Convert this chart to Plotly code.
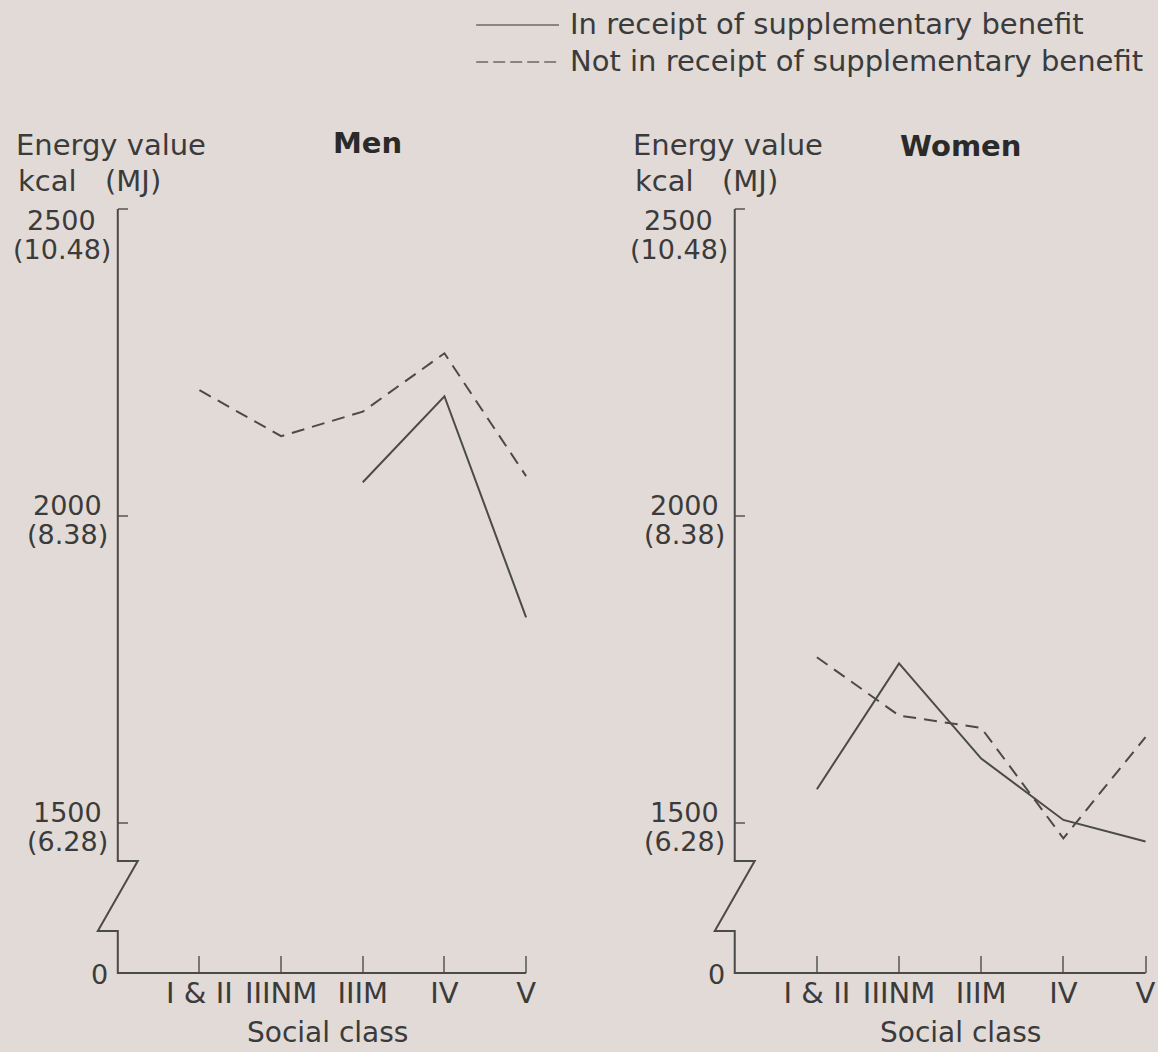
import plotly.graph_objects as go

# Social classes (Registrar General's classification)
classes = ["I & II", "IIINM", "IIIM", "IV", "V"]

# Mean daily energy intake, kcal
men_in_receipt = [None, None, 2055, 2195, 1835]
men_not_in_receipt = [2205, 2130, 2170, 2265, 2065]
women_in_receipt = [1555, 1760, 1605, 1505, 1470]
women_not_in_receipt = [1770, 1675, 1655, 1475, 1640]

# Energy axis: kcal ticks with their MJ equivalents
kcal_ticks = [1500, 2000, 2500]
mj_labels = ["(6.28)", "(8.38)", "(10.48)"]
zero_label = "0"

series_names = [
    "In receipt of supplementary benefit",
    "Not in receipt of supplementary benefit",
]
panel_titles = ["Men", "Women"]

# ---------------------------------------------------------------- layout
W, H = 1158, 1052
BG = "#e1dad6"
INK = "#3b3b3b"
LINE = "#4a4a4a"
FONT = "DejaVu Sans"

AXIS_BOTTOM_PX = 973          # x axis (broken energy scale shows 0 here)
AXIS_TOP_PX = 195
REF_KCAL, REF_PX = 1500, 823  # pixel row of the 1500 kcal tick
PX_PER_KCAL = 0.614
BREAK_TOP_PX, BREAK_BOTTOM_PX, BREAK_W = 861, 931, 20
X_MAX = 4.1                   # categorical range: -1 is the energy axis

Y_LO = REF_KCAL - (AXIS_BOTTOM_PX - REF_PX) / PX_PER_KCAL
Y_HI = REF_KCAL + (REF_PX - AXIS_TOP_PX) / PX_PER_KCAL

panels = [
    dict(axis_px=118, step_px=81.8, title_px=368, title_y=143, xtitle_px=328,
         solid=men_in_receipt, dashed=men_not_in_receipt),
    dict(axis_px=736, step_px=82.3, title_px=962, title_y=146, xtitle_px=962,
         solid=women_in_receipt, dashed=women_not_in_receipt),
]


def fx(px):
    return px / W


def fy(px):
    return 1 - px / H


def kcal_px(v):
    return REF_PX - (v - REF_KCAL) * PX_PER_KCAL


fig = go.Figure()
shapes, annotations = [], []

for i, p in enumerate(panels, start=1):
    xa = "x" if i == 1 else f"x{i}"
    ya = "y" if i == 1 else f"y{i}"
    ax, step = p["axis_px"], p["step_px"]

    fig.add_trace(go.Scatter(
        x=classes, y=p["solid"], xaxis=xa, yaxis=ya, mode="lines",
        name=series_names[0], showlegend=False, connectgaps=False,
        line=dict(color=LINE, width=2),
    ))
    fig.add_trace(go.Scatter(
        x=classes, y=p["dashed"], xaxis=xa, yaxis=ya, mode="lines",
        name=series_names[1], showlegend=False,
        line=dict(color=LINE, width=2, dash="13px,8px"),
    ))

    key = "" if i == 1 else str(i)
    fig.layout["xaxis" + key] = dict(
        domain=[fx(ax), fx(ax + (X_MAX + 1) * step)],
        range=[-1, X_MAX], type="category", anchor=ya,
        showgrid=False, zeroline=False, showline=False,
        ticks="inside", ticklen=17, tickwidth=1.5, tickcolor="#777",
        tickfont=dict(family=FONT, size=29, color=INK),
        categoryorder="array", categoryarray=classes,
    )
    fig.layout["yaxis" + key] = dict(
        domain=[fy(AXIS_BOTTOM_PX), fy(AXIS_TOP_PX)],
        range=[Y_LO, Y_HI], anchor=xa,
        showgrid=False, zeroline=False, showline=False,
        tickvals=kcal_ticks, ticks="inside", ticklen=10, tickwidth=1.5,
        tickcolor="#777", showticklabels=False,
    )

    # broken energy axis and class axis
    top = kcal_px(kcal_ticks[-1])
    right = ax + (len(classes)) * step
    pts = [(ax, top), (ax, BREAK_TOP_PX), (ax + BREAK_W, BREAK_TOP_PX),
           (ax - BREAK_W, BREAK_BOTTOM_PX), (ax, BREAK_BOTTOM_PX),
           (ax, AXIS_BOTTOM_PX), (right, AXIS_BOTTOM_PX)]
    path = "M " + " L ".join(f"{fx(a):.5f},{fy(b):.5f}" for a, b in pts)
    shapes.append(dict(type="path", xref="paper", yref="paper", path=path,
                       line=dict(color=LINE, width=2)))

    # energy tick labels: kcal over MJ, centred as a block
    for v, mj in zip(kcal_ticks, mj_labels):
        t = kcal_px(v)
        at_top = v == kcal_ticks[-1]
        cx = ax - (56 if at_top else 50)
        offs = (11, 41) if at_top else (-11, 18)
        for txt, off in zip((f"{v}", mj), offs):
            annotations.append(dict(
                xref="paper", yref="paper", x=fx(cx), y=fy(t + off),
                xanchor="center", yanchor="middle", showarrow=False,
                text=txt, font=dict(family=FONT, size=27, color=INK)))
    annotations.append(dict(
        xref="paper", yref="paper", x=fx(ax - 8), y=fy(AXIS_BOTTOM_PX + 1),
        xanchor="right", yanchor="middle", showarrow=False, text=zero_label,
        font=dict(family=FONT, size=27, color=INK)))

    # axis captions
    for txt, dx, py in (("Energy value", -104, 145), ("kcal", -102, 181),
                        ("(MJ)", -15, 181)):
        annotations.append(dict(
            xref="paper", yref="paper", x=fx(ax + dx), y=fy(py),
            xanchor="left", yanchor="middle", showarrow=False, text=txt,
            font=dict(family=FONT, size=29, color=INK)))
    annotations.append(dict(
        xref="paper", yref="paper", x=fx(p["title_px"]), y=fy(p["title_y"]),
        xanchor="center", yanchor="middle", showarrow=False,
        text=f"<b>{panel_titles[i - 1]}</b>",
        font=dict(family=FONT, size=29, color="#2a2a2a")))
    annotations.append(dict(
        xref="paper", yref="paper", x=fx(p["xtitle_px"]), y=fy(1051),
        xanchor="center", yanchor="bottom", showarrow=False,
        text="Social class", font=dict(family=FONT, size=28, color=INK)))

# key
for j, (name, dash, py) in enumerate(zip(series_names, ["solid", "12px,5px"],
                                         [25, 62])):
    shapes.append(dict(type="line", xref="paper", yref="paper",
                       x0=fx(477), x1=fx(560), y0=fy(py), y1=fy(py),
                       line=dict(color="#6a6a6a", width=1.5, dash=dash)))
    annotations.append(dict(
        xref="paper", yref="paper", x=fx(569), y=fy(py - 1),
        xanchor="left", yanchor="middle", showarrow=False, text=name,
        font=dict(family=FONT, size=29, color=INK)))

fig.update_layout(
    width=W, height=H, margin=dict(l=0, r=0, t=0, b=0),
    paper_bgcolor=BG, plot_bgcolor=BG, showlegend=False,
    shapes=shapes, annotations=annotations,
)

fig.write_html("out.html")
